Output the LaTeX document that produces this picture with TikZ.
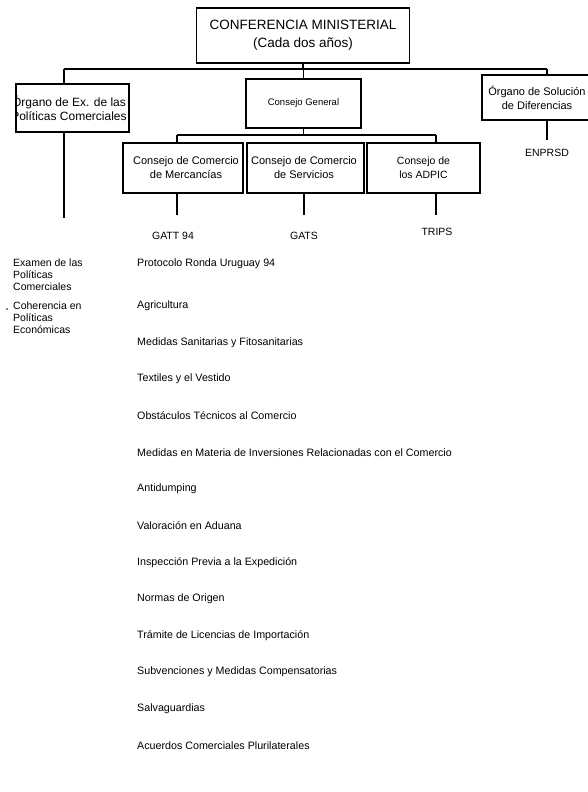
\documentclass[tikz,border=0pt]{standalone}
\usepackage{fontspec}
\setmainfont{Liberation Sans}
\begin{document}
\begin{tikzpicture}[x=1pt,y=-1pt,
  box/.style={draw, line width=1.5pt, inner sep=0pt},
  link/.style={line width=1.5pt},
  boxtext/.style={font=\fontsize{11}{14}\selectfont, align=center, inner sep=0pt},
  toptext/.style={font=\fontsize{13.5}{18}\selectfont, align=center, inner sep=0pt},
  lbl/.style={font=\fontsize{10.5}{12}\selectfont, inner sep=0pt},
  item/.style={font=\fontsize{10.7}{12}\selectfont, anchor=west, inner sep=0pt},
  side/.style={font=\fontsize{10.5}{12}\selectfont, anchor=north west, align=left, inner sep=0pt}]
\useasboundingbox (0,0) rectangle (587,792);

% --- top level ---
\node[box, minimum width=213pt, minimum height=55pt] (conf) at (303,35.5) {};
\node[toptext] (conftxt) at (conf.center) {CONFERENCIA MINISTERIAL\\(Cada dos años)};

% --- second level ---
\node[box, minimum width=113pt, minimum height=48pt] (oepc) at (72.5,108) {};
\node[box, minimum width=115pt, minimum height=49pt] (cg) at (303.5,103.5) {};
\node[box, minimum width=118pt, minimum height=45pt] (osd) at (541,97.5) {};

\begin{scope}
  \clip (oepc.south west) rectangle (oepc.north east);
  \node[boxtext, font=\fontsize{12}{14}\selectfont] (oepctxt) at (69,108) {Órgano de Ex. de las\\Políticas Comerciales};
\end{scope}
\node[boxtext, font=\fontsize{9.5}{12}\selectfont] (cgtxt) at (cg.center) {Consejo General};
\begin{scope}
  \clip (osd.south west) rectangle (osd.north east);
  \node[boxtext] (osdtxt) at (537,97.5) {Órgano de Solución\\de Diferencias};
\end{scope}

% bus under the conference box
\coordinate (busL) at (64,69);
\coordinate (busR) at (547,69);
\draw[link] (conf.south) -- (conf.south |- busL);
\draw[link] (busL) -- (busR);
\draw[link] (busL) -- (busL |- oepc.north);
\draw[link] (cg.north |- busL) -- (cg.north);
\draw[link] (busR) -- (busR |- osd.north);

% --- councils under the General Council ---
\node[box, minimum width=120pt, minimum height=50pt] (cmer) at (183,168) {};
\node[box, minimum width=117pt, minimum height=50pt] (cser) at (305.5,168) {};
\node[box, minimum width=113pt, minimum height=50pt] (cadp) at (423.5,168) {};

\begin{scope}
  \clip (cmer.south west) rectangle (cmer.north east);
  \node[boxtext] (cmertxt) at (186,168) {Consejo de Comercio\\de Mercancías};
\end{scope}
\begin{scope}
  \clip (cser.south west) rectangle (cser.north east);
  \node[boxtext] (csertxt) at (304,168) {Consejo de Comercio\\de Servicios};
\end{scope}
\node[boxtext, font=\fontsize{10.5}{14}\selectfont] (cadptxt) at (cadp.center) {Consejo de\\los ADPIC};

\coordinate (bus2L) at (177,135);
\coordinate (bus2R) at (436,135);
\draw[link] (cg.south) -- (cg.south |- bus2L);
\draw[link] (bus2L) -- (bus2R);
\draw[link] (bus2L) -- (bus2L |- cmer.north);
\draw[link] (bus2R) -- (bus2R |- cadp.north);

% --- agreements ---
\node[lbl] (gatt) at (173,236) {GATT 94};
\node[lbl] (gats) at (304,236) {GATS};
\node[lbl] (trips) at (437,232) {TRIPS};
\node[lbl] (enprsd) at (547,153) {ENPRSD};

\coordinate (gattend) at (177,215);
\coordinate (gatsend) at (304,215);
\coordinate (tripsend) at (436,215);
\coordinate (osdend) at (547,140);
\draw[link] (gattend |- cmer.south) -- (gattend);
\draw[link] (gatsend |- cser.south) -- (gatsend);
\draw[link] (tripsend |- cadp.south) -- (tripsend);
\draw[link] (osdend |- osd.south) -- (osdend);

% trade policy review column
\coordinate (tprend) at (64,218);
\draw[link] (tprend |- oepc.south) -- (tprend);
\node[side] (examen) at (13,259) {Examen de las\\Políticas\\Comerciales};
\node[side] (coher) at (13,302) {Coherencia en\\Políticas\\Económicas};
\fill (7,309) circle (0.8pt);

% multilateral agreements on trade in goods
\foreach \t [count=\i] in {
  Agricultura,
  Medidas Sanitarias y Fitosanitarias,
  Textiles y el Vestido,
  Obstáculos Técnicos al Comercio,
  Medidas en Materia de Inversiones Relacionadas con el Comercio,
  Antidumping,
  Valoración en Aduana,
  Inspección Previa a la Expedición,
  Normas de Origen,
  Trámite de Licencias de Importación,
  Subvenciones y Medidas Compensatorias,
  Salvaguardias,
  Acuerdos Comerciales Plurilaterales}
  \node[item] (it\i) at (137,{306+(\i-1)*36.6}) {\t};
\node[item] (protocolo) at (137,264) {Protocolo Ronda Uruguay 94};
\end{tikzpicture}
\end{document}
